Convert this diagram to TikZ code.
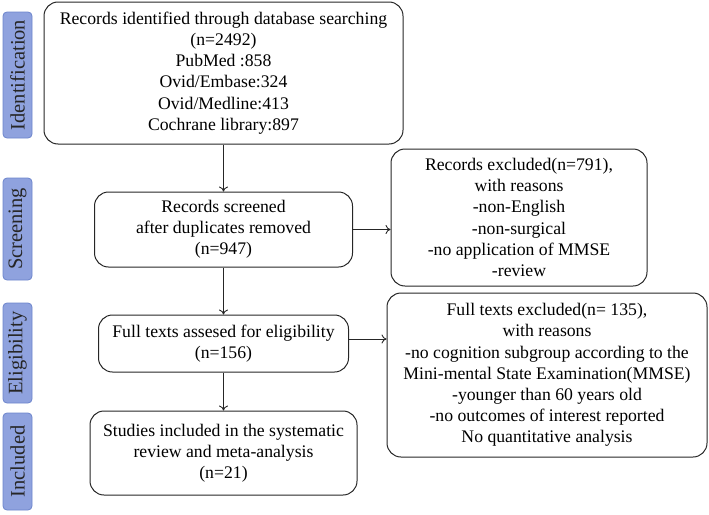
\documentclass[tikz,border=0pt]{standalone}
\usepackage{fontspec}
\setmainfont{Liberation Serif}
\usetikzlibrary{arrows.meta}
\definecolor{lblfill}{RGB}{143,162,222}
\definecolor{lbldraw}{RGB}{108,132,204}
\begin{document}
\begin{tikzpicture}[x=1pt,y=-1pt,
  box/.style={draw=black!85, line width=1pt, rounded corners=14pt, align=center, inner sep=0pt,
    font=\fontsize{17.7}{21.2}\selectfont},
  lbl/.style={draw=lbldraw, fill=lblfill, line width=0.8pt, rounded corners=4pt, inner sep=0pt,
    minimum width=29pt, rotate=90, font=\fontsize{20.5}{22}\selectfont, text=black!85},
  arr/.style={line width=0.9pt, draw=black!85, -{To[length=5pt,width=9pt]}}]
\useasboundingbox (0,0) rectangle (709,514);
% stage labels
\node[lbl, minimum width=126pt, minimum height=29pt] (L1) at (17.5,75) {Identification};
\node[lbl, minimum width=102pt, minimum height=29pt] (L2) at (17.5,229) {Screening};
\node[lbl, minimum width=100pt, minimum height=29pt] (L3) at (17.5,353) {Eligibility};
\node[lbl, minimum width=97pt, minimum height=29pt] (L4) at (17.5,461.5) {Included};
% boxes
\node[box, minimum width=359pt, minimum height=142pt] (id) at (223.5,73)
  {Records identified through database searching\\(n=2492)\\PubMed :858\\Ovid/Embase:324\\Ovid/Medline:413\\Cochrane library:897};
\node[box, minimum width=258pt, minimum height=75pt] (scr) at (223.5,229.5)
  {Records screened\\after duplicates removed\\(n=947)};
\node[box, minimum width=256pt, minimum height=137pt] (ex1) at (519,217.5)
  {Records excluded(n=791),\\with reasons\\-non-English\\-non-surgical\\-no application of MMSE\\-review};
\node[box, minimum width=250pt, minimum height=57pt] (el) at (223.5,343.5)
  {Full texts assesed for eligibility\\(n=156)};
\node[box, minimum width=320pt, minimum height=164pt] (ex2) at (547,375)
  {Full texts excluded(n= 135),\\with reasons\\-no cognition subgroup according to the\\Mini-mental State Examination(MMSE)\\-younger than 60 years old\\-no outcomes of interest reported\\No quantitative analysis};
\node[box, minimum width=267pt, minimum height=84pt] (inc) at (223.5,453)
  {Studies included in the systematic\\review and meta-analysis\\(n=21)};
% arrows
\draw[arr] (id.south) -- (scr.north);
\draw[arr] (scr.south) -- (el.north);
\draw[arr] (el.south) -- (inc.north);
\draw[arr] (scr.east) -- (scr.east -| ex1.west);
\draw[arr] ([yshift=4.5pt]el.east) -- ([yshift=4.5pt]el.east -| ex2.west);
\end{tikzpicture}
\end{document}
